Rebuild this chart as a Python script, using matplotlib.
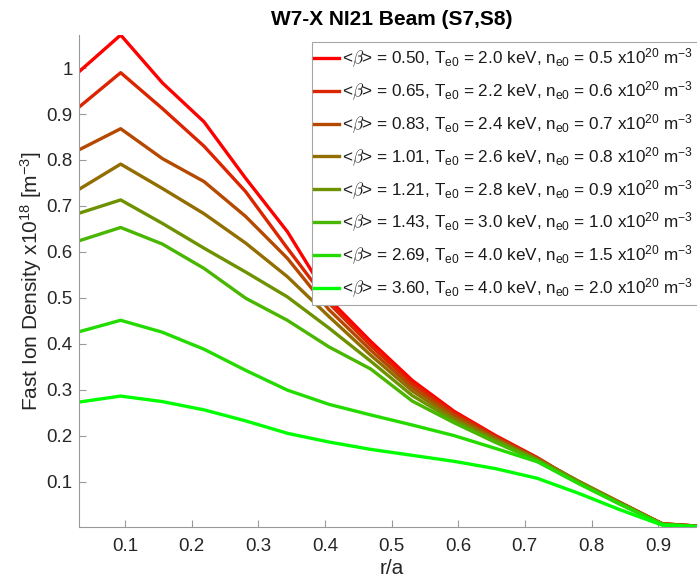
import matplotlib
matplotlib.use("Agg")
import matplotlib.pyplot as plt
from matplotlib.patches import Rectangle
from matplotlib.ticker import FormatStrFormatter

plt.rcParams['font.family'] = ['Liberation Sans', 'DejaVu Sans']
plt.rcParams['mathtext.fontset'] = 'cm'

# r/a grid
r = [0.03125, 0.09375, 0.15625, 0.21875, 0.28125, 0.34375, 0.40625, 0.46875,
     0.53125, 0.59375, 0.65625, 0.71875, 0.78125, 0.84375, 0.90625, 0.96875]

# fast ion density profiles (x10^18 m^-3), one per beta case
n_b050 = [0.992, 1.072, 0.968, 0.883, 0.760, 0.644, 0.497, 0.405, 0.320, 0.253, 0.200, 0.152, 0.097, 0.052, 0.008, 0.002]
n_b065 = [0.915, 0.990, 0.912, 0.830, 0.731, 0.608, 0.488, 0.396, 0.313, 0.249, 0.198, 0.151, 0.098, 0.053, 0.008, 0.002]
n_b083 = [0.822, 0.868, 0.803, 0.753, 0.677, 0.586, 0.474, 0.386, 0.305, 0.244, 0.195, 0.150, 0.100, 0.054, 0.008, 0.002]
n_b101 = [0.736, 0.791, 0.738, 0.683, 0.619, 0.546, 0.459, 0.375, 0.297, 0.238, 0.192, 0.149, 0.100, 0.053, 0.007, 0.002]
n_b121 = [0.684, 0.713, 0.662, 0.608, 0.556, 0.502, 0.434, 0.362, 0.287, 0.233, 0.189, 0.147, 0.099, 0.052, 0.007, 0.001]
n_b143 = [0.624, 0.653, 0.617, 0.564, 0.499, 0.451, 0.393, 0.345, 0.275, 0.228, 0.185, 0.145, 0.096, 0.050, 0.007, 0.001]
n_b269 = [0.426, 0.451, 0.425, 0.388, 0.342, 0.299, 0.268, 0.245, 0.223, 0.200, 0.172, 0.143, 0.095, 0.050, 0.006, 0.001]
n_b360 = [0.273, 0.286, 0.274, 0.256, 0.232, 0.205, 0.186, 0.170, 0.157, 0.144, 0.128, 0.107, 0.074, 0.038, 0.005, 0.001]
profiles = [n_b050, n_b065, n_b083, n_b101, n_b121, n_b143, n_b269, n_b360]

beta = ['0.50', '0.65', '0.83', '1.01', '1.21', '1.43', '2.69', '3.60']
Te0 = ['2.0', '2.2', '2.4', '2.6', '2.8', '3.0', '4.0', '4.0']
ne0 = ['0.5', '0.6', '0.7', '0.8', '0.9', '1.0', '1.5', '2.0']

xticks = [0.1, 0.2, 0.3, 0.4, 0.5, 0.6, 0.7, 0.8, 0.9]
yticks = [0.1, 0.2, 0.3, 0.4, 0.5, 0.6, 0.7, 0.8, 0.9, 1.0]

W, H = 697, 578
fig = plt.figure(figsize=(W / 100, H / 100), dpi=100)
# axes runs a little past the right edge like the cropped original
ax = fig.add_axes([79 / W, 1 - 527 / H, 625 / W, 492 / H])

n = len(profiles)
for i, prof in enumerate(profiles):
    t = i / (n - 1)
    lab = (r'<$\beta$> = ' + beta[i] + r', T$\mathregular{_{e0}}$ = ' + Te0[i]
           + r' keV, n$\mathregular{_{e0}}$ = ' + ne0[i]
           + r' x10$\mathregular{^{20}}$ m$\mathregular{^{-3}}$')
    ax.plot(r, prof, color=(1 - t, t, 0), lw=2.4, label=lab)

ax.set_xlim(min(r), max(r))
allv = [v for p in profiles for v in p]
ax.set_ylim(min(allv), max(allv))
ax.set_xticks(xticks)
ax.set_yticks(yticks)
ax.yaxis.set_major_formatter(FormatStrFormatter('%g'))

for s in ['top', 'right']:
    ax.spines[s].set_visible(False)
for s in ['left', 'bottom']:
    ax.spines[s].set_color('0.6')
    ax.spines[s].set_linewidth(0.8)
ax.tick_params(direction='in', length=5, width=0.8, color='0.6',
               labelcolor='0.15', labelsize=13.5)
ax.tick_params(axis='x', pad=8)
ax.tick_params(axis='y', pad=4.5)

ax.set_xlabel('r/a', fontsize=15, color='0.15', labelpad=3)
ax.set_ylabel(r'Fast Ion Density x10$\mathregular{^{18}}$ [m$\mathregular{^{-3}}$]',
              fontsize=15, color='0.15', labelpad=1.5)
ax.set_title('W7-X NI21 Beam (S7,S8)', fontsize=15, fontweight='bold', pad=7)

# legend box (cut off on the right side in the original)
box = Rectangle((312 / W, 1 - 305 / H), 400 / W, 263 / H, transform=fig.transFigure,
                facecolor='white', edgecolor='0.65', lw=0.8, zorder=4.5, clip_on=False)
ax.add_patch(box)
leg = ax.legend(loc='upper left', bbox_to_anchor=(314 / W, 1 - 47 / H),
                bbox_transform=fig.transFigure, frameon=False, fontsize=12.3,
                handlelength=1.45, handletextpad=0.2, borderpad=0, borderaxespad=0,
                labelspacing=0.55)
for tx in leg.get_texts():
    tx.set_color('0.1')

fig.savefig('out.png', dpi=100)
